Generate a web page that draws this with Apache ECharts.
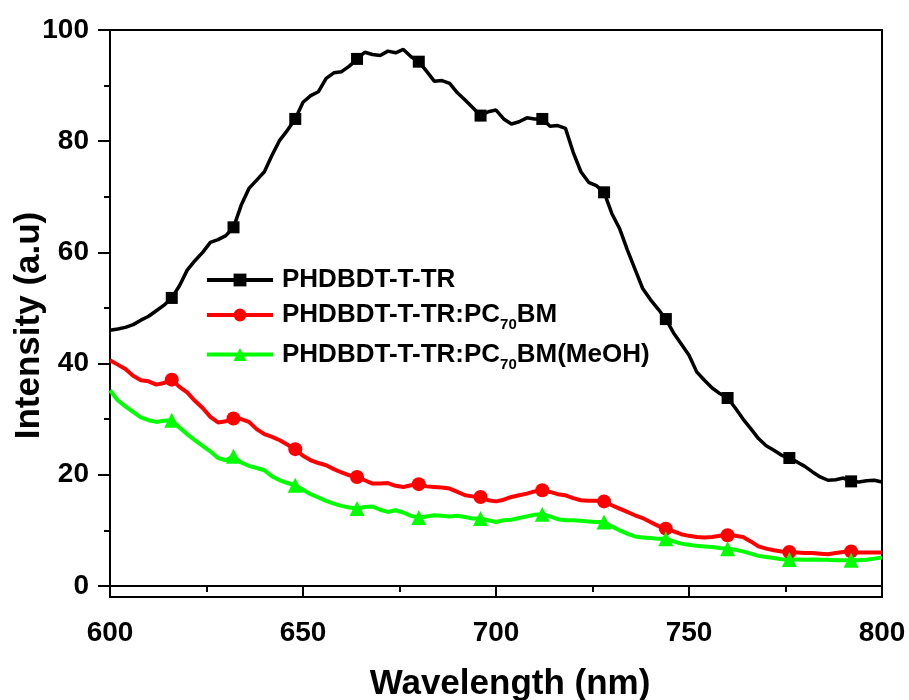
<!DOCTYPE html>
<html>
<head>
<meta charset="utf-8">
<script src="https://cdn.jsdelivr.net/npm/echarts@6/dist/echarts.min.js"></script>
<style>html,body{margin:0;padding:0;background:#fff}#c{width:909px;height:700px}</style>
</head>
<body>
<div id="c"></div>
<script>
// Wavelength grid (nm), 2 nm steps from 600 to 800
const wavelength = Array.from({length: 101}, (_, i) => 600 + 2 * i);
// Wavelengths where markers are drawn
const markerWavelengths = [616, 632, 648, 664, 680, 696, 712, 728, 744, 760, 776, 792];

const seriesNames = ['PHDBDT-T-TR', 'PHDBDT-T-TR:PC70BM', 'PHDBDT-T-TR:PC70BM(MeOH)'];

const pristine = [
  46.0, 46.2, 46.5, 47.0, 47.8, 48.5, 49.5, 50.5, 51.8, 54.0,
  56.8, 58.5, 60.0, 61.8, 62.3, 63.0, 64.5, 68.5, 71.5, 73.0,
  74.5, 77.5, 80.2, 82.0, 84.0, 87.0, 88.2, 88.9, 91.3, 92.3,
  92.5, 93.5, 94.8, 96.0, 95.6, 95.4, 96.2, 95.9, 96.5, 95.2,
  94.3, 92.6, 90.8, 90.9, 90.4, 88.7, 87.4, 86.0, 84.6, 85.3,
  85.6, 84.0, 83.1, 83.5, 84.2, 84.0, 84.0, 82.7, 82.8, 82.3,
  78.0, 74.5, 72.6, 72.0, 70.8, 67.0, 64.3, 60.5, 57.0, 53.5,
  51.5, 49.8, 48.0, 45.5, 43.5, 41.5, 38.5, 37.0, 35.6, 34.6,
  33.8, 32.0, 30.0, 28.3, 26.5, 25.2, 24.4, 23.5, 23.0, 22.3,
  21.5, 20.5, 19.6, 19.0, 19.1, 19.4, 18.8, 18.7, 18.9, 19.0,
  18.7
];

const blend = [
  40.6, 39.8, 39.0, 37.8, 37.0, 36.8, 36.2, 36.5, 37.1, 35.8,
  34.8, 33.3, 32.0, 30.4, 29.4, 29.6, 30.1, 30.0, 29.5, 28.2,
  27.3, 26.8, 26.2, 25.4, 24.6, 23.4, 22.6, 22.1, 21.7, 21.0,
  20.4, 19.9, 19.6, 19.0, 18.4, 18.4, 18.5, 18.0, 17.8, 18.1,
  18.3, 17.9, 17.8, 17.7, 17.5, 16.9, 16.3, 16.1, 16.0, 15.4,
  15.2, 15.5, 16.0, 16.3, 16.6, 17.0, 17.2, 16.9, 16.5, 16.3,
  15.8, 15.4, 15.3, 15.3, 15.2, 14.5, 13.9, 13.3, 12.7, 12.2,
  11.5, 10.8, 10.3, 9.8, 9.3, 9.0, 8.8, 8.7, 8.8, 9.0,
  9.1, 9.0, 8.8, 8.0, 7.1, 6.7, 6.4, 6.2, 6.1, 6.0,
  5.9, 5.9, 5.8, 5.7, 5.9, 6.1, 6.2, 6.0, 6.0, 6.0,
  6.0
];

const blendMeOH = [
  35.2, 33.4, 32.3, 31.3, 30.3, 29.8, 29.5, 29.7, 29.8, 28.5,
  27.3, 26.2, 25.2, 24.2, 23.0, 22.6, 23.3, 22.2, 21.6, 21.2,
  20.8, 19.7, 19.0, 18.5, 18.1, 17.3, 16.5, 15.9, 15.3, 14.8,
  14.4, 14.1, 13.9, 14.2, 14.3, 13.7, 13.3, 13.6, 13.2, 12.6,
  12.3, 12.5, 12.7, 12.6, 12.5, 12.6, 12.4, 12.1, 12.1, 11.8,
  11.5, 11.8, 11.9, 12.2, 12.5, 12.8, 12.9, 12.5, 12.0, 11.8,
  11.8, 11.7, 11.6, 11.5, 11.5, 10.7, 10.0, 9.4, 8.9, 8.7,
  8.6, 8.5, 8.5, 8.0, 7.6, 7.4, 7.2, 7.1, 7.0, 6.8,
  6.7, 6.5, 6.2, 5.8, 5.4, 5.2, 5.0, 4.8, 4.75, 4.75,
  4.7, 4.75, 4.7, 4.7, 4.6, 4.6, 4.6, 4.6, 4.7, 4.9,
  5.1
];

const yMajorTicks = [0, 20, 40, 60, 80, 100];
const yMinorTicks = [10, 30, 50, 70, 90];

const FONT = '"Liberation Sans", Arial, sans-serif';

function buildData(ys, symbol) {
  return wavelength.map((x, i) => ({
    value: [x, ys[i]],
    symbol: markerWavelengths.indexOf(x) >= 0 ? symbol : 'none'
  }));
}

function mkSeries(name, ys, color, symbol, size, width) {
  return {
    name: name,
    type: 'line',
    xAxisIndex: 0,
    yAxisIndex: 0,
    data: buildData(ys, symbol),
    symbol: symbol,
    symbolSize: size,
    showSymbol: true,
    showAllSymbol: true,
    clip: true,
    lineStyle: {color: color, width: width},
    itemStyle: {color: color, borderWidth: 0},
    emphasis: {disabled: true},
    animation: false
  };
}

const chart = echarts.init(document.getElementById('c'), null, {renderer: 'canvas'});

const option = {
  backgroundColor: '#fff',
  animation: false,
  grid: {left: 110, right: 27, top: 30, bottom: 103, outerBoundsMode: 'none', containLabel: false,
         show: true, borderColor: '#000', borderWidth: 2, backgroundColor: 'transparent'},
  legend: {
    orient: 'vertical',
    left: 200,
    top: 262,
    itemWidth: 66,
    itemHeight: 16,
    itemGap: 9,
    data: seriesNames,
    lineStyle: {width: 4},
    formatter: function (name) {
      return name.replace('PC70BM', 'PC{sub|70}BM');
    },
    textStyle: {
      fontFamily: FONT, fontWeight: 'bold', fontSize: 26, color: '#000',
      padding: [0, 0, 0, 4],
      rich: {
        sub: {fontFamily: FONT, fontWeight: 'bold', fontSize: 15, color: '#000', padding: [20, 0, 0, 0]}
      }
    }
  },
  xAxis: [{
    type: 'value',
    min: 600, max: 800, interval: 50,
    name: 'Wavelength (nm)',
    nameLocation: 'middle',
    nameGap: 70,
    nameMoveOverlap: false,
    nameTextStyle: {fontFamily: FONT, fontWeight: 'bold', fontSize: 35, color: '#000', padding: [0, 0, 0, 28]},
    axisLine: {show: true, lineStyle: {color: '#000', width: 2}},
    axisTick: {show: true, inside: false, length: 11, lineStyle: {color: '#000', width: 2}},
    minorTick: {show: true, splitNumber: 2, length: 6, lineStyle: {color: '#000', width: 2}},
    axisLabel: {fontFamily: FONT, fontWeight: 'bold', fontSize: 28, color: '#000', margin: 22},
    splitLine: {show: false},
    minorSplitLine: {show: false}
  }],
  yAxis: [{
    type: 'value',
    min: -2, max: 100,
    position: 'left',
    name: 'Intensity (a.u)',
    nameLocation: 'middle',
    nameGap: 63,
    nameMoveOverlap: false,
    nameTextStyle: {fontFamily: FONT, fontWeight: 'bold', fontSize: 35, color: '#000', padding: [0, 24, 0, 0]},
    axisLine: {show: true, lineStyle: {color: '#000', width: 2}},
    axisTick: {show: true, inside: false, length: 12, customValues: yMajorTicks, lineStyle: {color: '#000', width: 2}},
    axisLabel: {fontFamily: FONT, fontWeight: 'bold', fontSize: 28, color: '#000', margin: 21, customValues: yMajorTicks},
    splitLine: {show: false}
  }, {
    type: 'value',
    min: -2, max: 100,
    position: 'left',
    offset: 0,
    axisLine: {show: false},
    axisTick: {show: true, inside: false, length: 6, customValues: yMinorTicks, lineStyle: {color: '#000', width: 2}},
    axisLabel: {show: false, customValues: yMinorTicks},
    splitLine: {show: false}
  }],
  series: [
    mkSeries(seriesNames[0], pristine, '#000000', 'rect', 12, 3.5),
    mkSeries(seriesNames[1], blend, '#ff0000', 'circle', 14, 4),
    mkSeries(seriesNames[2], blendMeOH, '#00ff00', 'triangle', 15, 4)
  ]
};

chart.setOption(option);
</script>
</body>
</html>
